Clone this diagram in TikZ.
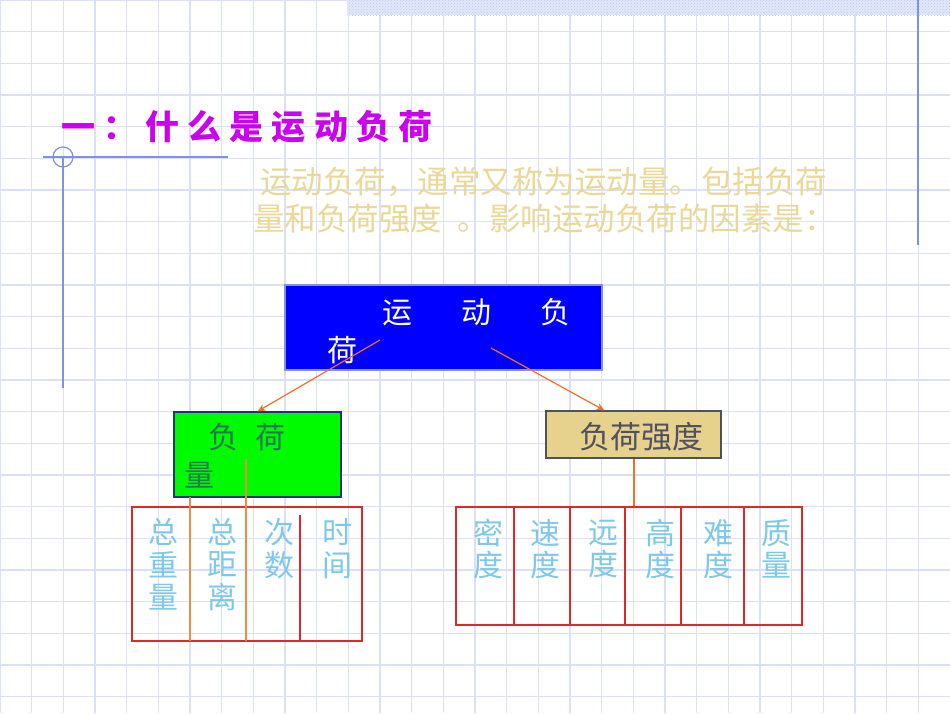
\documentclass[tikz,border=0pt]{standalone}
\usepackage{fontspec}
\usepackage{tikz}
\usetikzlibrary{arrows.meta,positioning,calc,patterns}
\newfontfamily\cjk{Noto Sans CJK SC}
\newfontfamily\cjktitle[LetterSpace=24]{Noto Sans CJK SC}

\definecolor{gridblue}{RGB}{218,224,246}
\definecolor{rulerblue}{RGB}{128,146,222}
\definecolor{titlepink}{RGB}{204,0,238}
\definecolor{sandtext}{RGB}{234,216,150}
\definecolor{loadblue}{RGB}{0,0,255}
\definecolor{loadgreen}{RGB}{0,250,0}
\definecolor{loadtan}{RGB}{230,210,140}
\definecolor{darkgreen}{RGB}{34,120,80}
\definecolor{slate}{RGB}{80,80,96}
\definecolor{skyblue}{RGB}{126,200,234}
\definecolor{cellred}{RGB}{224,40,40}
\definecolor{linkorange}{RGB}{240,112,36}
\definecolor{splitorange}{RGB}{238,140,70}

\begin{document}
\begin{tikzpicture}[x=1pt, y=-1pt, >={Stealth[length=8pt,width=7pt]}]
\tikzstyle{box}=[draw, rectangle, inner sep=0pt, line width=1.2pt]
\tikzstyle{word}=[inner sep=0pt, align=left, anchor=west, font=\cjk\fontsize{30}{38}\selectfont]
\tikzstyle{cell}=[inner sep=0pt, align=center, text=skyblue, font=\cjk\fontsize{30}{32.5}\selectfont]
\tikzstyle{redline}=[draw=cellred, line width=1.2pt]
\tikzstyle{arrowline}=[draw=linkorange, line width=1.2pt]

% page and grid
\useasboundingbox (0,0) rectangle (950,713);
\fill[white] (0,0) rectangle (950,713);
\draw[gridblue, line width=1.5pt, step=31.667pt] (0,0) grid (950,713);
\fill[color={rgb,255:red,226;green,232;blue,250}] (347,0) rectangle (950,15);
\fill[pattern=crosshatch dots, pattern color={rgb,255:red,188;green,200;blue,240}] (347,0) rectangle (950,15);
\draw[rulerblue, line width=1.5pt] (918,0) -- (918,245);
\draw[rulerblue, line width=1.2pt] (43,157) -- (228,157);
\draw[rulerblue, line width=1.2pt] (63,157) circle (10);
\draw[rulerblue, line width=1.5pt] (63,157) -- (63,388);

% title and text
\node[inner sep=0pt, anchor=west, text=titlepink, font=\cjktitle\bfseries\fontsize{34}{34}\selectfont] (title) at (61,127) {一：什么是运动负荷};
\node[word, text=sandtext, font=\cjk\fontsize{31.5}{37}\selectfont] (intro) at (253,200)
  {\hspace*{7pt}运动负荷，通常又称为运动量。包括负荷\\量和负荷强度\hspace{.5em}。影响运动负荷的因素是：};

% boxes
\node[box, draw=rulerblue, fill=loadblue, minimum width=317pt, minimum height=85pt] (load) at (443.5,327.5) {};
\node[word, text=white] (loadtxt) at (327,331) {\hspace*{55pt}运\hspace{49pt}动\hspace{49pt}负\\荷};
\node[box, draw={rgb,255:red,30;green,50;blue,130}, fill=loadgreen, minimum width=167pt, minimum height=85pt] (grn) at (257.5,454.5) {};
\node[word, text=darkgreen] (grntxt) at (184,456) {\hspace*{24pt}负\hspace{17pt}荷\\量};
\node[box, draw=slate, fill=loadtan, minimum width=175pt, minimum height=47pt] (tan) at (633.5,434.5) {};
\node[word, text=slate, font=\cjk\fontsize{31}{31}\selectfont] (tantxt) at (579,437) {负荷强度};

% arrows
\draw[->, arrowline] ($(load.center)+(-63.5,12.5)$) -- (grn.north);
\draw[->, arrowline] ($(load.center)+(47.5,20.5)$) -- ($(tan.north west)+(59,0)$);

% left table
\node[box, draw=cellred, minimum width=230pt, minimum height=134pt] (ltab) at (247,574) {};
\draw[draw=splitorange, line width=1.5pt] (190,497) -- (190,641);
\draw[draw=splitorange, line width=2pt] (246,459) -- (246,641);
\draw[redline] (300,515) -- (300,641);
\node[cell] (zzl) at (163,564.5) {总\\重\\量};
\node[cell] (zjl) at (222,564.5) {总\\距\\离};
\node[cell] (cs)  at (279,548.5) {次\\数};
\node[cell] (sj)  at (337,548.5) {时\\间};

% right table
\node[box, draw=cellred, minimum width=346pt, minimum height=118pt] (rtab) at (629,566) {};
\draw[arrowline, line width=2pt] (tan.south) -- (tan.south |- rtab.north);
\draw[redline] (514,507) -- (514,625);
\draw[redline] (570,507) -- (570,625);
\draw[redline] (625,507) -- (625,625);
\draw[redline] (681,507) -- (681,625);
\draw[redline] (744,507) -- (744,625);
\node[cell] (md) at (488,549) {密\\度};
\node[cell] (sd) at (545,549) {速\\度};
\node[cell] (yd) at (603,549) {远\\度};
\node[cell] (gd) at (660,549) {高\\度};
\node[cell] (nd) at (718,549) {难\\度};
\node[cell] (zl) at (776,549) {质\\量};
\end{tikzpicture}
\end{document}
